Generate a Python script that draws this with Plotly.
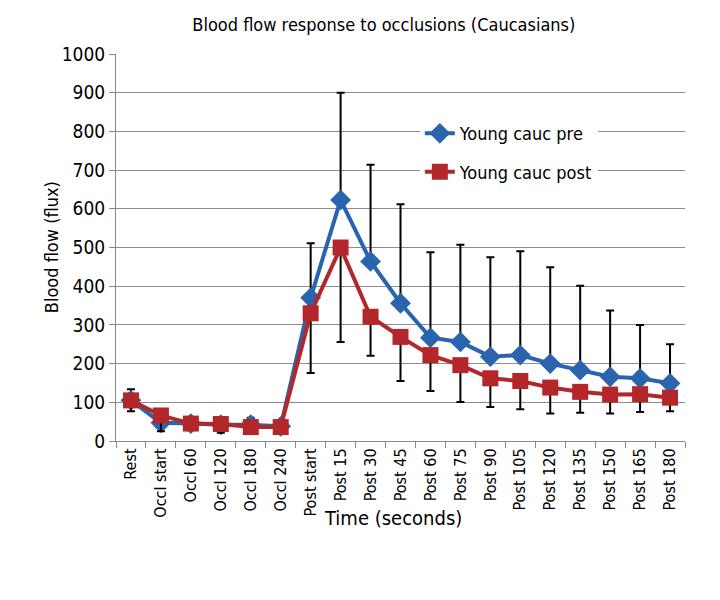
import plotly.graph_objects as go

categories = ["Rest", "Occl start", "Occl 60", "Occl 120", "Occl 180", "Occl 240",
              "Post start", "Post 15", "Post 30", "Post 45", "Post 60", "Post 75",
              "Post 90", "Post 105", "Post 120", "Post 135", "Post 150", "Post 165", "Post 180"]
pre = [105, 47, 45, 42, 42, 38, 370, 623, 464, 356, 267, 256, 218, 222, 200, 183, 166, 162, 149]
post = [105, 66, 45, 44, 36, 36, 330, 500, 321, 269, 222, 196, 162, 155, 138, 127, 120, 121, 112]
pre_err_plus = [29, 5, 5, 5, 18, 5, 141, 277, 250, 256, 221, 251, 257, 268, 249, 218, 171, 138, 101]
post_err_minus = [28, 41, 5, 23, 5, 5, 154, 244, 101, 114, 93, 95, 74, 73, 67, 54, 49, 46, 35]
zeros = [0] * len(categories)

FONT = "Liberation Sans Narrow, DejaVu Sans Condensed, Arial Narrow, sans-serif"
BLUE = "#2b64ae"
RED = "#b3272a"

fig = go.Figure()
fig.add_trace(go.Scatter(
    x=categories, y=pre, name="Young cauc pre", mode="lines+markers", legendgroup="a",
    line=dict(color=BLUE, width=4),
    marker=dict(symbol="diamond", size=16, color=BLUE),
    error_y=dict(type="data", symmetric=False, array=pre_err_plus, arrayminus=zeros,
                 color="black", thickness=2, width=4),
))
fig.add_trace(go.Scatter(
    x=categories, y=post, name="Young cauc post", mode="lines+markers", legendgroup="b",
    line=dict(color=RED, width=4),
    marker=dict(symbol="square", size=16, color=RED),
    error_y=dict(type="data", symmetric=False, array=zeros, arrayminus=post_err_minus,
                 color="black", thickness=2, width=4),
))

fig.update_layout(
    width=720, height=600,
    margin=dict(l=108, r=43, t=46, b=167),
    paper_bgcolor="white", plot_bgcolor="white",
    font=dict(family=FONT, size=17, color="black"),
    title=dict(text="Blood flow response to occlusions (Caucasians)", x=0.522, xanchor="center",
               y=0.972, yanchor="middle", font=dict(family=FONT, size=18, color="black")),
    showlegend=True,
    legend=dict(x=0.534, y=0.842, xanchor="left", yanchor="top", bgcolor="white",
                font=dict(family=FONT, size=18, color="black"), tracegroupgap=12,
                traceorder="grouped", itemsizing="trace"),
    xaxis=dict(type="category", tickson="boundaries", ticks="outside", ticklen=6,
               tickcolor="#888888", showline=True, linecolor="#888888", linewidth=1,
               showgrid=False, tickangle=-90, tickfont=dict(family=FONT, size=16),
               range=[-0.5, len(categories) - 0.5]),
    yaxis=dict(range=[0, 1000], dtick=100, ticks="outside", ticklen=6, tickcolor="#888888",
               showline=True, linecolor="#888888", linewidth=1,
               showgrid=True, gridcolor="#8c8c8c", gridwidth=1, zeroline=False,
               tickfont=dict(family=FONT, size=19)),
    annotations=[
        dict(text="Time (seconds)", xref="paper", yref="paper", x=0.487, y=-0.2,
             xanchor="center", yanchor="middle", showarrow=False,
             font=dict(family=FONT, size=20)),
        dict(text="Blood flow (flux)", xref="paper", yref="paper", x=-0.113, y=0.5,
             xanchor="center", yanchor="middle", textangle=-90, showarrow=False,
             font=dict(family=FONT, size=18)),
    ],
)

fig.write_html("out.html")
